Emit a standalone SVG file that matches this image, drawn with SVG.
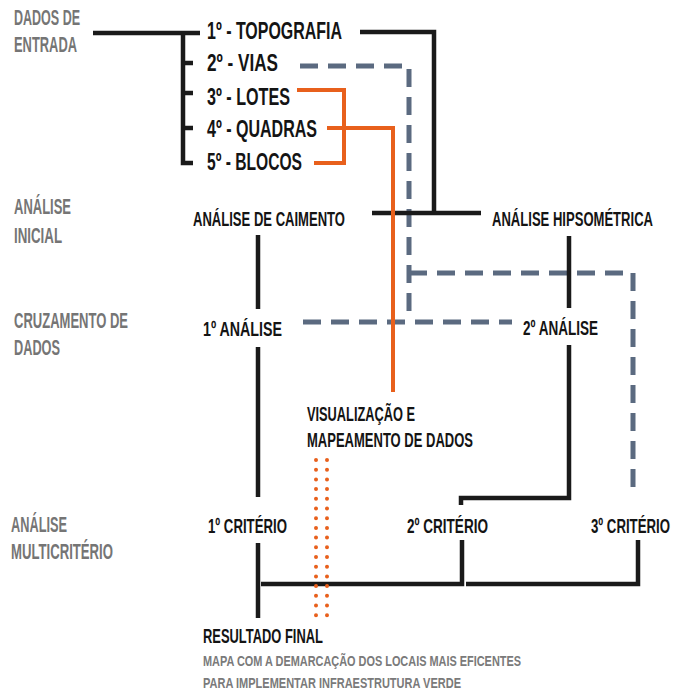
<svg xmlns="http://www.w3.org/2000/svg" width="673" height="697" viewBox="0 0 673 697">
<style>
text{font-family:"Liberation Sans",Arial,sans-serif;font-weight:bold}
.big{font-size:24px;fill:#141414}
.mid{font-size:21px;fill:#141414}
.lab{font-size:21.5px;fill:#757575}
.sm{font-size:15.5px;fill:#7a7a7a}
.k{fill:none;stroke:#1a1a1a;stroke-width:4.5}
.o{fill:none;stroke:#e8601c;stroke-width:4}
.d{fill:none;stroke:#5b6a80;stroke-width:5;stroke-dasharray:18 10}
.dot{fill:none;stroke:#e8601c;stroke-width:4;stroke-linecap:round;stroke-dasharray:0 9.7}
</style>
<rect width="673" height="697" fill="#ffffff"/>
<g id="connectors">
  <path class="d" d="M300,66 H409 V320"/>
  <path class="d" d="M409,273 H633 V497"/>
  <path class="d" d="M303,322 H512"/>
  <path class="k" d="M93,33 H200 M183,33 V163 H193 M183,63 H193 M183,93 H193 M183,128 H193"/>
  <path class="k" d="M360,32 H434 V213"/>
  <path class="k" d="M372,213 H481"/>
  <path class="o" d="M297,90 H344 V163 H314"/>
  <path class="o" d="M327,128 H393 V392"/>
  <path class="k" d="M258,235 V309 M258,347 V497 M258,543 V618"/>
  <path class="k" d="M569,236 V308 M569,345 V498 H461 V505"/>
  <path class="k" d="M261,584 H462 V540"/>
  <path class="k" d="M466,584 H638 V540"/>
  <path class="dot" d="M316,460 V616 M327,460 V616"/>
</g>
<g id="labels">
  <text class="lab" x="14" y="25" textLength="66" lengthAdjust="spacingAndGlyphs">DADOS DE</text>
  <text class="lab" x="14" y="52" textLength="63" lengthAdjust="spacingAndGlyphs">ENTRADA</text>
  <text class="lab" x="14" y="214" textLength="57" lengthAdjust="spacingAndGlyphs">ANÁLISE</text>
  <text class="lab" x="14" y="243" textLength="48" lengthAdjust="spacingAndGlyphs">INICIAL</text>
  <text class="lab" x="14" y="328" textLength="114" lengthAdjust="spacingAndGlyphs">CRUZAMENTO DE</text>
  <text class="lab" x="14" y="355" textLength="46" lengthAdjust="spacingAndGlyphs">DADOS</text>
  <text class="lab" x="11" y="532" textLength="56" lengthAdjust="spacingAndGlyphs">ANÁLISE</text>
  <text class="lab" x="11" y="559" textLength="102" lengthAdjust="spacingAndGlyphs">MULTICRITÉRIO</text>
</g>
<g id="n-topografia"><text class="big" x="207" y="38.5" textLength="135" lengthAdjust="spacingAndGlyphs">1º - TOPOGRAFIA</text></g>
<g id="n-vias"><text class="big" x="207" y="71" textLength="71" lengthAdjust="spacingAndGlyphs">2º - VIAS</text></g>
<g id="n-lotes"><text class="big" x="207" y="104.5" textLength="83" lengthAdjust="spacingAndGlyphs">3º - LOTES</text></g>
<g id="n-quadras"><text class="big" x="207" y="137" textLength="110" lengthAdjust="spacingAndGlyphs">4º - QUADRAS</text></g>
<g id="n-blocos"><text class="big" x="207" y="169.5" textLength="95" lengthAdjust="spacingAndGlyphs">5º - BLOCOS</text></g>
<g id="n-caimento"><text class="mid" x="193" y="226" textLength="152" lengthAdjust="spacingAndGlyphs">ANÁLISE DE CAIMENTO</text></g>
<g id="n-hipsometrica"><text class="mid" transform="translate(492,226) scale(0.6216,1)" x="0" y="0" textLength="259" lengthAdjust="spacingAndGlyphs">ANÁLISE HIPSOMÉTRICA</text></g>
<g id="n-analise1"><text class="mid" x="203" y="336" textLength="79" lengthAdjust="spacingAndGlyphs">1º ANÁLISE</text></g>
<g id="n-analise2"><text class="mid" x="523" y="335" textLength="75" lengthAdjust="spacingAndGlyphs">2º ANÁLISE</text></g>
<g id="n-visualizacao">
  <text class="mid" x="307" y="421" textLength="108" lengthAdjust="spacingAndGlyphs">VISUALIZAÇÃO E</text>
  <text class="mid" x="307" y="447" textLength="166" lengthAdjust="spacingAndGlyphs">MAPEAMENTO DE DADOS</text>
</g>
<g id="n-criterio1"><text class="mid" x="208" y="533" textLength="79" lengthAdjust="spacingAndGlyphs">1º CRITÉRIO</text></g>
<g id="n-criterio2"><text class="mid" x="407" y="533" textLength="81" lengthAdjust="spacingAndGlyphs">2º CRITÉRIO</text></g>
<g id="n-criterio3"><text class="mid" transform="translate(591,533) scale(0.6295,1)" x="0" y="0" textLength="125.5" lengthAdjust="spacingAndGlyphs">3º CRITÉRIO</text></g>
<g id="n-resultado">
  <text class="mid" x="203" y="643" textLength="120" lengthAdjust="spacingAndGlyphs">RESULTADO FINAL</text>
  <text class="sm" x="203" y="666" textLength="318" lengthAdjust="spacingAndGlyphs">MAPA COM A DEMARCAÇÃO DOS LOCAIS MAIS EFICENTES</text>
  <text class="sm" x="203" y="688" textLength="258" lengthAdjust="spacingAndGlyphs">PARA IMPLEMENTAR INFRAESTRUTURA VERDE</text>
</g>
</svg>
